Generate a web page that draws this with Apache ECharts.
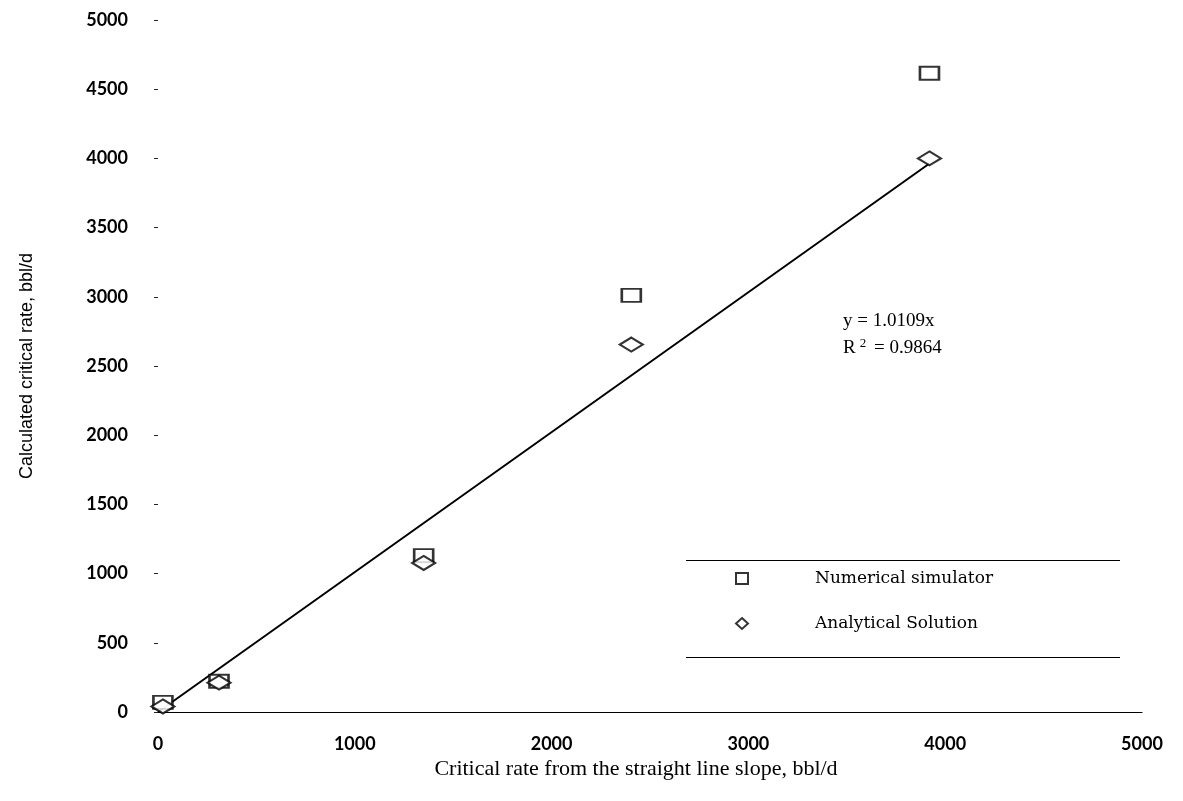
<!DOCTYPE html>
<html>
<head>
<meta charset="utf-8">
<title>Critical rate comparison</title>
<script src="https://cdn.jsdelivr.net/npm/echarts@6/dist/echarts.min.js"></script>
<style>
  html, body { margin: 0; padding: 0; background: #ffffff; }
  #chart { width: 1183px; height: 801px; }
</style>
</head>
<body>
<div id="chart"></div>
<script>
// Critical rate from the straight-line slope (x) for each case
const slopeRates = [25, 310, 1350, 2405, 3920];
// Calculated critical rates for the same cases
const numericalRates = [70, 222, 1130, 3010, 4615];
const analyticalRates = [40, 212, 1077, 2655, 4000];
// Linear fit through the origin: y = slope * x
const fitSlope = 1.0109;
const fitR2 = 0.9864;
const xTicks = [0, 1000, 2000, 3000, 4000, 5000];
const yTicks = [0, 500, 1000, 1500, 2000, 2500, 3000, 3500, 4000, 4500, 5000];

const toPairs = (xs, ys) => xs.map((x, i) => [x, ys[i]]);
const fitEndX = Math.max(...slopeRates);
const fitLine = [[0, 0], [fitEndX, fitSlope * fitEndX]];

const plain = v => String(v);
const tickFont = { fontFamily: 'Lato, "Open Sans", sans-serif', fontWeight: 'bold', fontSize: 18, color: '#000', formatter: plain };
const serif = '"Liberation Serif", "DejaVu Serif", serif';

const chart = echarts.init(document.getElementById('chart'), null, { renderer: 'canvas' });
chart.setOption({
  animation: false,
  backgroundColor: '#ffffff',
  grid: { left: 158, right: 41, top: 20, bottom: 89, containLabel: false },
  xAxis: {
    type: 'value', min: xTicks[0], max: xTicks[xTicks.length - 1], interval: 1000,
    axisLine: { show: true, lineStyle: { color: '#000', width: 1.2 } },
    axisTick: { show: false },
    splitLine: { show: false },
    axisLabel: Object.assign({ margin: 23 }, tickFont),
    name: 'Critical rate from the straight line slope, bbl/d',
    nameLocation: 'middle', nameGap: 40,
    nameTextStyle: { fontFamily: serif, fontSize: 22, color: '#000', padding: [0, 28, 0, 0] }
  },
  yAxis: {
    type: 'value', min: yTicks[0], max: yTicks[yTicks.length - 1], interval: 500,
    offset: 8,
    axisLine: { show: false },
    axisTick: { show: true, length: 4, lineStyle: { color: '#222', width: 1 } },
    splitLine: { show: false },
    axisLabel: Object.assign({ margin: 22 }, tickFont),
    name: 'Calculated critical rate, bbl/d',
    nameLocation: 'middle', nameGap: 114, nameRotate: 90,
    nameTextStyle: { fontFamily: '"Liberation Sans Narrow", "Liberation Sans", Arial, sans-serif', fontSize: 18, color: '#000' }
  },
  legend: {
    orient: 'vertical', left: 730, top: 565, itemGap: 28,
    itemWidth: 12, itemHeight: 11,
    data: [
      { name: 'Numerical simulator', icon: 'rect' },
      { name: 'Analytical Solution', icon: 'diamond' }
    ],
    textStyle: { fontFamily: '"DejaVu Serif", serif', fontSize: 17, color: '#000', padding: [0, 0, 0, 62] }
  },
  graphic: [
    // rules above and below the legend block
    { type: 'line', shape: { x1: 686, y1: 560.5, x2: 1120, y2: 560.5 }, style: { stroke: '#000', lineWidth: 1.2 } },
    { type: 'line', shape: { x1: 686, y1: 657.5, x2: 1120, y2: 657.5 }, style: { stroke: '#000', lineWidth: 1.2 } },
    { type: 'text', left: 843, top: 312, style: { text: 'y = ' + fitSlope.toFixed(4) + 'x', font: '19px ' + serif, fill: '#000' } },
    { type: 'text', left: 843, top: 337, style: {
        text: '{r|R}{sup|2}{r| = ' + fitR2.toFixed(4) + '}',
        rich: { r: { font: '19px ' + serif, fill: '#000' }, sup: { font: '13px ' + serif, fill: '#000', padding: [0, 3, 10, 4] } }
    } }
  ],
  series: [
    {
      name: 'Linear fit', type: 'line', data: fitLine, showSymbol: false, symbol: 'none',
      lineStyle: { color: '#000', width: 2 }, z: 1, silent: true
    },
    {
      name: 'Numerical simulator', type: 'scatter', data: toPairs(slopeRates, numericalRates),
      symbol: 'rect', symbolSize: [19, 13],
      itemStyle: { color: '#ffffff', borderColor: '#000', borderWidth: 2.2 }, z: 3
    },
    {
      name: 'Analytical Solution', type: 'scatter', data: toPairs(slopeRates, analyticalRates),
      symbol: 'diamond', symbolSize: [23, 14],
      itemStyle: { color: '#ffffff', borderColor: '#000', borderWidth: 2.2 }, z: 4
    }
  ]
});
</script>
</body>
</html>
